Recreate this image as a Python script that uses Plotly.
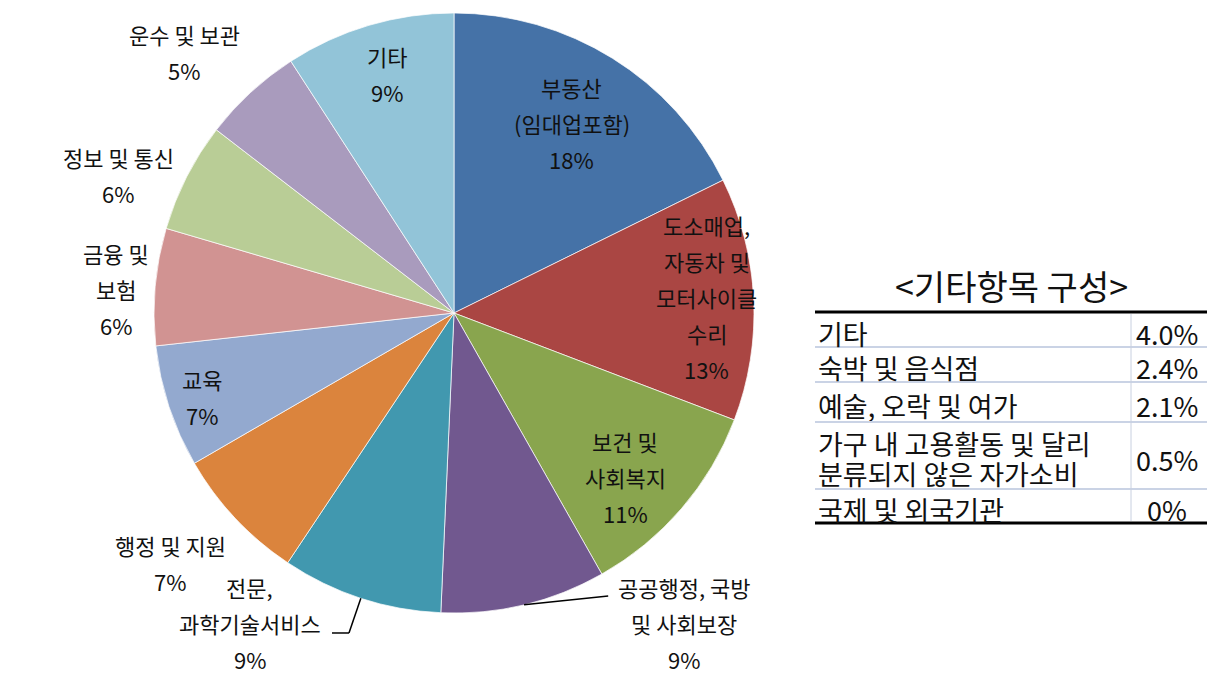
import math
import plotly.graph_objects as go

# ---------------- data ----------------
categories = ["부동산(임대업포함)", "도소매업, 자동차 및 모터사이클 수리", "보건 및 사회복지",
              "공공행정, 국방 및 사회보장", "전문, 과학기술서비스", "행정 및 지원", "교육",
              "금융 및 보험", "정보 및 통신", "운수 및 보관", "기타"]
values = [17.7, 13.1, 11.0, 8.9, 8.65, 7.3, 6.6, 6.3, 5.9, 5.4, 9.15]
label_lines = [["부동산", "(임대업포함)"], ["도소매업,", "자동차 및", "모터사이클", "수리"],
               ["보건 및", "사회복지"], ["공공행정, 국방", "및 사회보장"], ["전문,", "과학기술서비스"],
               ["행정 및 지원"], ["교육"], ["금융 및", "보험"], ["정보 및 통신"], ["운수 및 보관"], ["기타"]]

table_title = "<기타항목 구성>"
table_items = [["기타"], ["숙박 및 음식점"], ["예술, 오락 및 여가"],
               ["가구 내 고용활동 및 달리", "분류되지 않은 자가소비"], ["국제 및 외국기관"]]
table_values = ["4.0%", "2.4%", "2.1%", "0.5%", "0%"]

# ---------------- styles / layout ----------------
colors = ["#4572A7", "#AA4643", "#89A54E", "#71588F", "#4198AF", "#DB843D",
          "#93A9CF", "#D19392", "#B9CD96", "#A99BBD", "#92C4D8"]
W, H = 1210, 675
CX, CY, R = 454, 313, 300
FONT = "Noto Sans CJK KR"
LABEL_SIZE = 22
# label placement: (angle in degrees clockwise from 12 o'clock, radius as fraction of R)
label_pos = [(31.8, 0.746), (86.4, 0.845), (133.8, 0.79), (143.4, 1.287), (213.35, 1.237),
             (228.6, 1.262), (251.5, 0.886), (274.1, 1.13), (292.3, 1.209), (314.0, 1.251),
             (344.3, 0.826)]
LINE_H = 36
# leader lines: slice index -> list of pixel offsets from label center
leaders = {3: [(-76, -27)], 4: [(99, 10), (82, 10)]}


def px(x):
    return x / W


def py(y):
    return 1 - y / H


fig = go.Figure()
fig.add_trace(go.Pie(
    labels=categories, values=values, sort=False, direction="clockwise", rotation=0,
    marker=dict(colors=colors, line=dict(color="rgba(255,255,255,0.7)", width=1)),
    textinfo="none", hoverinfo="label+percent", showlegend=False,
    domain=dict(x=[px(CX - R), px(CX + R)], y=[py(CY + R), py(CY - R)]),
))

annotations = []
shapes = []
total = sum(values)
cum = 0.0
for i, v in enumerate(values):
    mid = (cum + v / 2) / total * 360
    cum += v
    ang, rf = label_pos[i]
    lx = CX + rf * R * math.sin(math.radians(ang))
    ly = CY - rf * R * math.cos(math.radians(ang))
    lines = label_lines[i] + [f"{round(v / total * 100)}%"]
    n = len(lines)
    for j, t in enumerate(lines):
        yy = ly + (j - (n - 1) / 2) * LINE_H
        annotations.append(dict(x=px(lx), y=py(yy), xref="paper", yref="paper", text=t,
                                showarrow=False, xanchor="center", yanchor="middle",
                                font=dict(family=FONT, size=LABEL_SIZE, color="#111111")))
    if i in leaders:
        ex = CX + R * math.sin(math.radians(mid))
        ey = CY - R * math.cos(math.radians(mid))
        pts = [(ex, ey)] + [(lx + dx, ly + dy) for dx, dy in leaders[i]]
        for (x0, y0), (x1, y1) in zip(pts[:-1], pts[1:]):
            shapes.append(dict(type="line", xref="paper", yref="paper",
                               x0=px(x0), y0=py(y0), x1=px(x1), y1=py(y1),
                               line=dict(color="#000000", width=1.5)))

# ---------------- table ----------------
TX0, TX1, TXDIV = 815, 1207, 1131
row_bounds = [312, 347, 382, 422, 489, 523]
TABLE_SIZE = 27
annotations.append(dict(x=px(1012), y=py(285), xref="paper", yref="paper", text=table_title,
                        showarrow=False, xanchor="center", yanchor="middle",
                        font=dict(family=FONT, size=34, color="#111111")))
for k in range(len(table_items)):
    y0, y1 = row_bounds[k], row_bounds[k + 1]
    yc = (y0 + y1) / 2 + 3
    lines = table_items[k]
    n = len(lines)
    hbox = 32 if n == 1 else 29
    for j, t in enumerate(lines):
        yy = yc + (j - (n - 1) / 2) * 30
        annotations.append(dict(x=px(817), y=py(yy), xref="paper", yref="paper", text=t,
                                showarrow=False, xanchor="left", yanchor="middle",
                                height=hbox, borderpad=0, valign="middle",
                                font=dict(family=FONT, size=TABLE_SIZE, color="#111111")))
    annotations.append(dict(x=px(1167), y=py(yc), xref="paper", yref="paper", text=table_values[k],
                            showarrow=False, xanchor="center", yanchor="middle",
                            height=32, borderpad=0, valign="middle",
                            font=dict(family=FONT, size=TABLE_SIZE, color="#111111")))
for idx, yb in enumerate(row_bounds):
    thick = idx in (0, len(row_bounds) - 1)
    shapes.append(dict(type="line", xref="paper", yref="paper", x0=px(TX0), x1=px(TX1),
                       y0=py(yb), y1=py(yb),
                       line=dict(color="#000000" if thick else "#B8C4DC", width=3 if thick else 1.5)))
shapes.append(dict(type="line", xref="paper", yref="paper", x0=px(TXDIV), x1=px(TXDIV),
                   y0=py(row_bounds[0] + 2), y1=py(row_bounds[-1] - 2),
                   line=dict(color="#C8D0E0", width=1)))

fig.update_layout(width=W, height=H, margin=dict(l=0, r=0, t=0, b=0),
                  paper_bgcolor="white", plot_bgcolor="white",
                  annotations=annotations, shapes=shapes)
fig.write_html("out.html")
